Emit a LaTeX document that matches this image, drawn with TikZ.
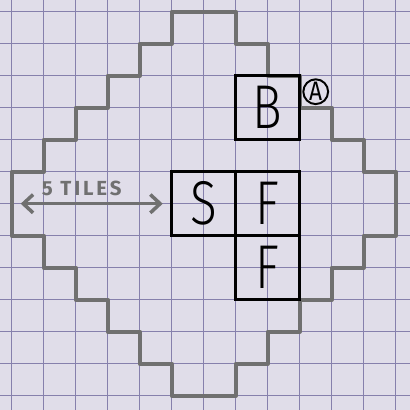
\documentclass[tikz,border=0pt]{standalone}
\usepackage{fontspec}
\setmainfont{Fira Sans}
\newfontfamily\handfont[FakeStretch=0.8]{Fira Sans Light}
\newfontfamily\notefont[FakeStretch=0.85]{Fira Sans}
\newfontfamily\labelfont[LetterSpace=14]{Fira Sans}
\usetikzlibrary{arrows.meta}
\definecolor{paper}{RGB}{224,221,233}
\definecolor{gridline}{RGB}{134,128,172}
\definecolor{pencil}{RGB}{112,112,112}

\begin{document}
\begin{tikzpicture}[x=0.8cm,y=-0.8cm,
	tile/.style={draw=black,line width=2.1pt,minimum size=1.6cm,inner sep=0pt,font=\handfont\fontsize{44}{44}\selectfont},
	outline/.style={pencil,line width=2.8pt,line join=round}]
	\fill[paper] (-0.366,-0.366) rectangle (12.447,12.447);
	\useasboundingbox (-0.366,-0.366) rectangle (12.447,12.447);
	\foreach \i in {0,...,12} {\draw[gridline,line width=0.7pt] (\i,-0.366) -- (\i,12.447); \draw[gridline,line width=0.7pt] (-0.366,\i) -- (12.447,\i);}
	% reach of five tiles
	\draw[outline] (5,0) -| (7,1) -| (8,2) -| (9,3) -| (10,4) -| (11,5) -| (12,7) -| (11,8) -| (10,9) -| (9,10) -| (8,11) -| (7,12) -| (5,11) -| (4,10) -| (3,9) -| (2,8) -| (1,7) -| (0,5) -| (1,4) -| (2,3) -| (3,2) -| (4,1) -| (5,0) -- cycle;
	\node[tile] (S) at (6,6) {S};
	\node[tile] (F1) at (8,6) {F};
	\node[tile] (F2) at (8,8) {F};
	\node[tile] (B) at (8,3) {B};
	\node[draw=black,circle,line width=1.4pt,minimum size=0.62cm,inner sep=0pt,font=\notefont\fontsize{19}{19}\selectfont] (bnote) at (9.5,2.5) {A};
	\coordinate (arrL) at (0.28,6); \coordinate (arrR) at (4.72,6);
	\draw[pencil,line width=2.5pt,{Straight Barb[length=7pt,width=13pt]}-{Straight Barb[length=7pt,width=13pt]}] (arrL) -- (arrR) node[midway,above=1pt,xshift=-0.25cm,text=pencil,font=\labelfont\bfseries\fontsize{14.5}{14.5}\selectfont] (span) {5 TILES};
\end{tikzpicture}
\end{document}
